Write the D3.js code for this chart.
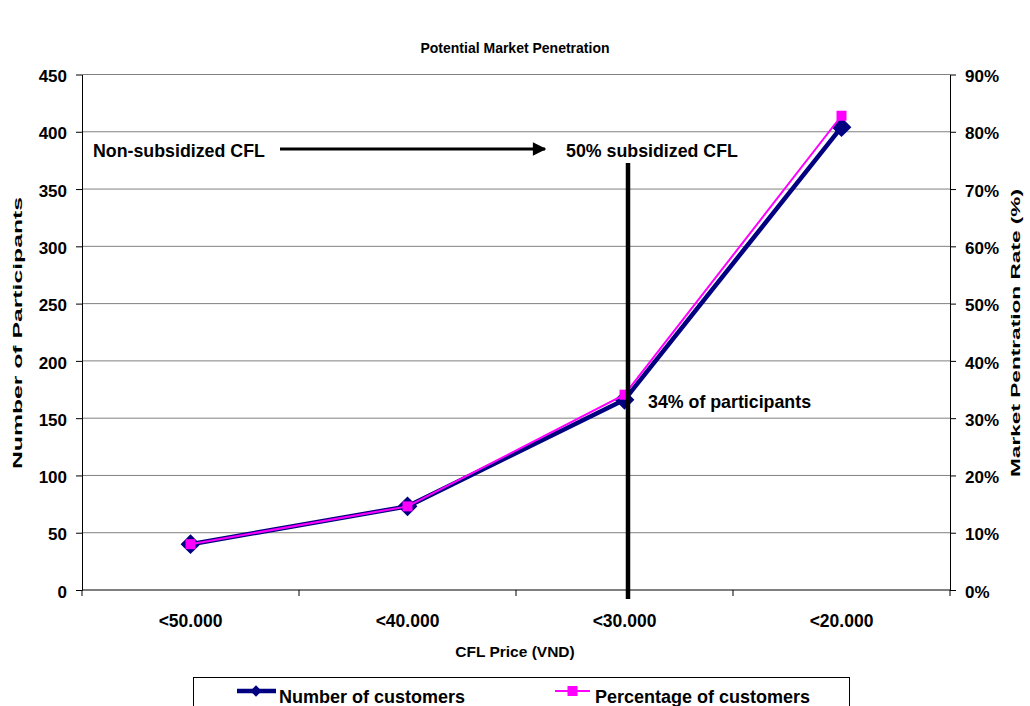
<!DOCTYPE html>
<html>
<head>
<meta charset="utf-8">
<script src="https://cdn.jsdelivr.net/npm/d3@7/dist/d3.min.js"></script>
<style>
  body { margin: 0; background: #fff; }
  svg { display: block; }
  svg text { font-family: "Liberation Sans", Arial, sans-serif; font-weight: bold; fill: #000; }
</style>
</head>
<body>
<svg id="chart" width="1030" height="706"></svg>
<script>
// Price bands and survey results
const categories = ["<50.000", "<40.000", "<30.000", "<20.000"];
const customers = [40, 73, 166, 404];          // number of customers
const percentage = [8.0, 14.6, 34.1, 82.8];    // percentage of customers (%)
const leftTicks = [0, 50, 100, 150, 200, 250, 300, 350, 400, 450];
const rightTicks = [0, 10, 20, 30, 40, 50, 60, 70, 80, 90];

const svg = d3.select("#chart");
const m = { left: 82, right: 950, top: 74.5, bottom: 590 };

const x = d3.scaleBand().domain(categories).range([m.left, m.right]);
const yL = d3.scaleLinear().domain([0, 450]).range([m.bottom, m.top]);
const yR = d3.scaleLinear().domain([0, 90]).range([m.bottom, m.top]);
const cx = c => x(c) + x.bandwidth() / 2;

// Title
svg.append("text").attr("x", 515).attr("y", 53).attr("text-anchor", "middle")
  .attr("font-size", 14).text("Potential Market Penetration");

// Horizontal gridlines
svg.append("g").selectAll("line").data(leftTicks.filter(d => d > 0)).join("line")
  .attr("x1", m.left).attr("x2", m.right)
  .attr("y1", d => yL(d)).attr("y2", d => yL(d))
  .attr("stroke", "#808080").attr("stroke-width", 1);

// Left axis
const gL = svg.append("g").attr("transform", `translate(${m.left},0)`)
  .call(d3.axisLeft(yL).tickValues(leftTicks).tickSizeInner(6).tickSizeOuter(0).tickPadding(9));
// Right axis
const gR = svg.append("g").attr("transform", `translate(${m.right},0)`)
  .call(d3.axisRight(yR).tickValues(rightTicks).tickFormat(d => d + "%").tickSizeInner(6).tickSizeOuter(0).tickPadding(9));
[gL, gR].forEach(g => {
  g.attr("font-family", null).attr("font-size", null);
  g.selectAll("path, line").attr("stroke", "#000");
  g.selectAll("text").attr("font-size", 17).attr("dy", "0.42em");
});

// Bottom axis with ticks on category boundaries
svg.append("line").attr("x1", m.left).attr("x2", m.right)
  .attr("y1", m.bottom).attr("y2", m.bottom).attr("stroke", "#000");
const bounds = categories.map(c => x(c)).concat([m.right]);
svg.append("g").selectAll("line").data(bounds).join("line")
  .attr("x1", d => d).attr("x2", d => d)
  .attr("y1", m.bottom).attr("y2", m.bottom + 6).attr("stroke", "#000");
svg.append("g").selectAll("text").data(categories).join("text")
  .attr("x", d => cx(d)).attr("y", 627)
  .attr("text-anchor", "middle").attr("font-size", 17.5).text(d => d);

// Axis titles
svg.append("text").attr("x", 515).attr("y", 657).attr("text-anchor", "middle")
  .attr("font-size", 15.5).text("CFL Price (VND)");
svg.append("text").attr("transform", "translate(22,333) rotate(-90)")
  .attr("text-anchor", "middle").attr("font-size", 12)
  .attr("textLength", 272).attr("lengthAdjust", "spacingAndGlyphs")
  .text("Number of Participants");
svg.append("text").attr("transform", "translate(1020,333) rotate(-90)")
  .attr("text-anchor", "middle").attr("font-size", 12)
  .attr("textLength", 288).attr("lengthAdjust", "spacingAndGlyphs")
  .text("Market Pentration Rate (%)");

// Series: number of customers (navy line, diamond markers)
svg.append("path").datum(customers)
  .attr("d", d3.line().x((d, i) => cx(categories[i])).y(d => yL(d)))
  .attr("fill", "none").attr("stroke", "#000080").attr("stroke-width", 4.5)
  .attr("stroke-linejoin", "round");
svg.append("g").selectAll("path").data(customers).join("path")
  .attr("transform", (d, i) => `translate(${cx(categories[i])},${yL(d)}) rotate(45)`)
  .attr("d", d3.symbol(d3.symbolSquare, 196)).attr("fill", "#000080");

// Series: percentage of customers (magenta line, square markers)
svg.append("path").datum(percentage)
  .attr("d", d3.line().x((d, i) => cx(categories[i])).y(d => yR(d)))
  .attr("fill", "none").attr("stroke", "#FF00FF").attr("stroke-width", 2);
svg.append("g").selectAll("rect").data(percentage).join("rect")
  .attr("x", (d, i) => cx(categories[i]) - 5).attr("y", d => yR(d) - 5)
  .attr("width", 10).attr("height", 10).attr("fill", "#FF00FF");

// Annotations: subsidy arrow and threshold line
svg.append("defs").append("marker").attr("id", "arrow")
  .attr("viewBox", "0 0 10 10").attr("refX", 9).attr("refY", 5)
  .attr("markerWidth", 5).attr("markerHeight", 4.5).attr("markerUnits", "strokeWidth")
  .attr("orient", "auto").append("path").attr("d", "M0,0 L10,5 L0,10 Z").attr("fill", "#000");
svg.append("line").attr("x1", 280).attr("x2", 545).attr("y1", 149).attr("y2", 149)
  .attr("stroke", "#000").attr("stroke-width", 3).attr("marker-end", "url(#arrow)");
svg.append("text").attr("x", 93).attr("y", 157).attr("font-size", 17.8).text("Non-subsidized CFL");
svg.append("text").attr("x", 566).attr("y", 157).attr("font-size", 17.8).text("50% subsidized CFL");

const vx = cx("<30.000") + 3.5;
svg.append("line").attr("x1", vx).attr("x2", vx).attr("y1", 163).attr("y2", 599)
  .attr("stroke", "#000").attr("stroke-width", 4.5);
svg.append("text").attr("x", 648).attr("y", 408).attr("font-size", 17.8).text("34% of participants");

// Legend
svg.append("rect").attr("x", 193.5).attr("y", 677.5).attr("width", 656).attr("height", 40)
  .attr("fill", "#fff").attr("stroke", "#000").attr("stroke-width", 1);
const lg = svg.append("g");
lg.append("line").attr("x1", 237).attr("x2", 276).attr("y1", 691).attr("y2", 691)
  .attr("stroke", "#000080").attr("stroke-width", 4.5);
lg.append("path").attr("transform", "translate(256,691) rotate(45)")
  .attr("d", d3.symbol(d3.symbolSquare, 64)).attr("fill", "#000080");
lg.append("text").attr("x", 279).attr("y", 703).attr("font-size", 18).text("Number of customers");
lg.append("line").attr("x1", 555).attr("x2", 590).attr("y1", 691).attr("y2", 691)
  .attr("stroke", "#FF00FF").attr("stroke-width", 2);
lg.append("rect").attr("x", 567.5).attr("y", 686).attr("width", 10).attr("height", 10).attr("fill", "#FF00FF");
lg.append("text").attr("x", 595).attr("y", 703).attr("font-size", 18).text("Percentage of customers");
</script>
</body>
</html>
